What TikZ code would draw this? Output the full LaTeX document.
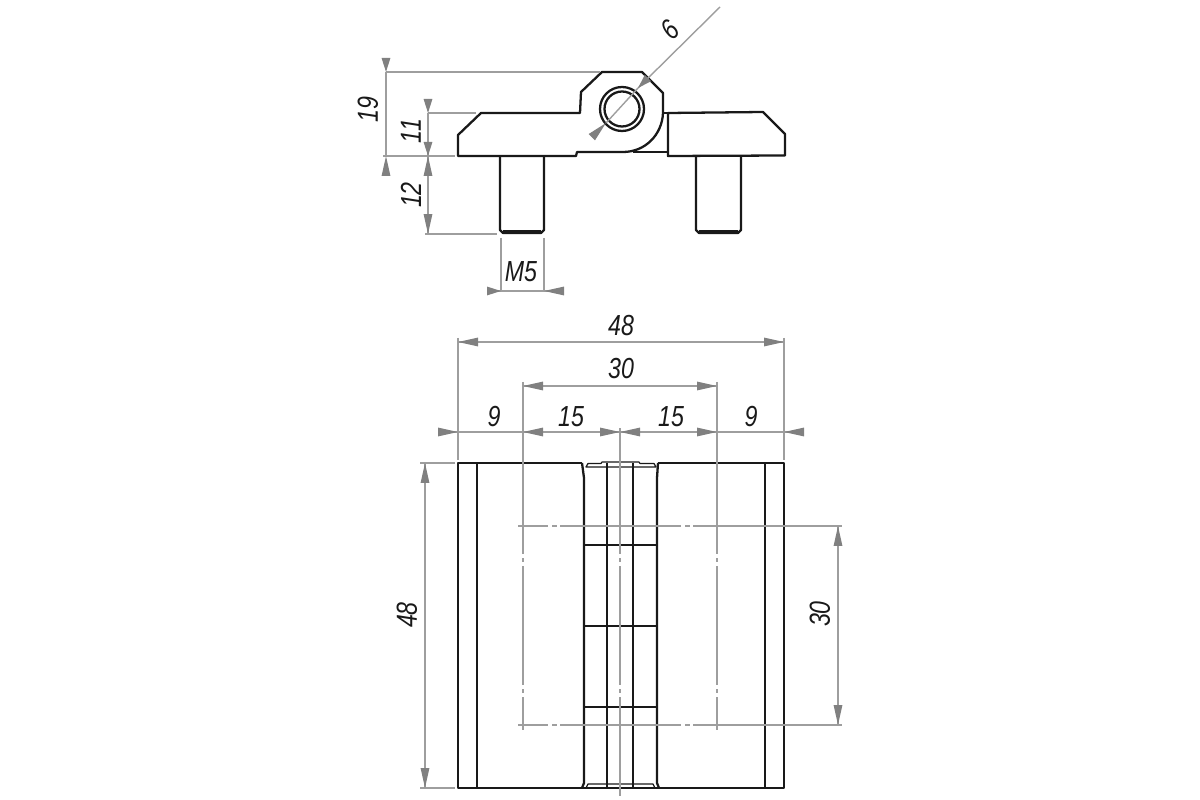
\documentclass[tikz,border=0pt]{standalone}
\usepackage{fontspec}
\setmainfont{Liberation Sans}
\usetikzlibrary{arrows.meta}
\definecolor{dimgray}{gray}{0.62}
\definecolor{tipgray}{gray}{0.5}
\definecolor{partblack}{gray}{0.1}
\tikzset{
  part/.style={draw=partblack, line width=1.3pt, line join=round},
  dimline/.style={draw=dimgray, line width=0.8pt},
  dimtip/.style={draw=dimgray, line width=0.8pt, -{Triangle[length=0.4cm,width=0.17cm,color=tipgray]}},
  dimtipshort/.style={draw=dimgray, line width=0.8pt, -{Triangle[length=0.28cm,width=0.17cm,color=tipgray]}},
  dimtext/.style={font=\itshape\fontsize{16.5}{16.5}\selectfont, xscale=0.8, text=partblack, inner sep=0pt}
}
\begin{document}
\begin{tikzpicture}[x=0.02cm,y=-0.02cm]
\useasboundingbox (0,0) rectangle (1200,800);

% end view
\coordinate (hub) at (622,109);
\draw [part] (458,156) -- (458,135) -- (481,113) -- (580,113) -- (581,92) -- (602,72) -- (642,72) -- (663,93) -- (663,113) .. controls (662,135) and (645,152) .. (623,152) -- (577,152) -- (576,156) -- cycle;
\draw [part] (668,113) -- (763,112) -- (785,134) -- (785,155.5) -- (668,156) -- cycle;
\draw [part] (633,152) -- (668,152);
\draw [part] (663,113) -- (668,113);
\draw [part] (hub) circle [radius=22];
\draw [part] (hub) circle [radius=17.5];

\draw [part] (500,156) -- (500,230) -- (503,233) -- (541,233) -- (544,230) -- (544,156);
\draw [part] (696,156) -- (696,230) -- (699,233) -- (738,233) -- (741,230) -- (741,156);
\draw [part] (503,231.5) -- (541,231.5);
\draw [part] (699,231.5) -- (738,231.5);

% end view dimensions
\coordinate (h19) at (386,72);
\coordinate (b19) at (386,156);
\coordinate (h11) at (428,113);
\coordinate (b11) at (428,156);
\coordinate (e12) at (428,234);
\coordinate (m5a) at (501,291);
\coordinate (m5b) at (544,291);
\coordinate (dia) at (638,88);
\coordinate (dib) at (606,123);

\draw [dimline] (h19) -- (600,72);
\draw [dimline] (h11) -- (476,113);
\draw [dimline] (383,156) -- (455,156);
\draw [dimline] (e12) ++(-3,0) -- (497,234);
\draw [dimline] (501,238) -- (m5a) ++(0,4);
\draw [dimline] (544,238) -- (m5b) ++(0,4);

\draw [dimline] (h19) -- (b19);
\draw [dimtipshort] (386,58) -- (h19);
\draw [dimtip] (386,175) -- (b19);
\draw [dimline] (h11) -- (e12);
\draw [dimtipshort] (428,99) -- (h11);
\draw [dimtipshort] (428,142) -- (b11);
\draw [dimtip] (428,176) -- (b11);
\draw [dimtip] (428,214) -- (e12);
\draw [dimline] (487,291) -- (563,291);
\draw [dimtipshort] (487,291) -- (m5a);
\draw [dimtip] (563,291) -- (m5b);
\draw [dimline] (720,7) -- (dia);
\draw [dimline] (dia) -- (dib);
\draw [dimtipshort] (648,78) -- (dia);
\draw [dimtip] (592,137) -- (dib);

\node [rotate=90, dimtext] (t19) at (368,110) {19};
\node [rotate=90, dimtext] (t11) at (411,131) {11};
\node [rotate=90, dimtext] (t12) at (411,195) {12};
\node [dimtext] (tm5) at (521,272) {M5};
\node [rotate=45, dimtext] (t6) at (670,30) {6};

% front view
\draw [part] (582,463) -- (458,463) -- (458,788) -- (784,788) -- (784,463) -- (658,463);
\draw [part] (477,463) -- (477,788);
\draw [part] (765,463) -- (765,788);
\draw [part] (582,463) -- (584,478) -- (584,783) -- (582,788);
\draw [part] (658,463) -- (657,478) -- (657,783) -- (659,788);
\draw [part, line width=1pt] (607,463) -- (607,788);
\draw [part, line width=1pt] (633,463) -- (633,788);
\draw [part] (584,545) -- (657,545);
\draw [part] (584,626) -- (657,626);
\draw [part] (584,707) -- (657,707);
\draw [part, line width=0.7pt] (586,467) -- (588,463.5) -- (601,463.5) -- (602,462) -- (639,462) -- (640,463.5) -- (654,463.5) -- (656,467) -- cycle;
\draw [part, line width=0.7pt] (586,788) -- (588,784) -- (653,784) -- (655,788);

% centre lines
\draw [dimline] (518,526) -- (548,526);
\draw [dimline] (552,526) -- (557,526);
\draw [dimline] (560,526) -- (681,526);
\draw [dimline] (685,526) -- (690,526);
\draw [dimline] (693,526) -- (842,526);
\draw [dimline] (518,725) -- (548,725);
\draw [dimline] (552,725) -- (557,725);
\draw [dimline] (560,725) -- (681,725);
\draw [dimline] (685,725) -- (690,725);
\draw [dimline] (693,725) -- (842,725);
\draw [dimline] (523,382) -- (523,554);
\draw [dimline] (523,558) -- (523,562);
\draw [dimline] (523,566) -- (523,685);
\draw [dimline] (523,689) -- (523,693);
\draw [dimline] (523,697) -- (523,730);
\draw [dimline] (717,382) -- (717,554);
\draw [dimline] (717,558) -- (717,562);
\draw [dimline] (717,566) -- (717,685);
\draw [dimline] (717,689) -- (717,693);
\draw [dimline] (717,697) -- (717,730);
\draw [dimline] (620,428) -- (620,554);
\draw [dimline] (620,558) -- (620,562);
\draw [dimline] (620,566) -- (620,685);
\draw [dimline] (620,689) -- (620,693);
\draw [dimline] (620,697) -- (620,796);

% front view dimensions
\coordinate (wl) at (458,342);
\coordinate (wr) at (784,342);
\coordinate (ml) at (523,386);
\coordinate (mr) at (717,386);
\coordinate (ca) at (458,432);
\coordinate (cb) at (523,432);
\coordinate (cc) at (620,432);
\coordinate (cd) at (717,432);
\coordinate (ce) at (784,432);
\coordinate (ht) at (425,463);
\coordinate (hb) at (425,788);
\coordinate (st) at (838,526);
\coordinate (sb) at (838,725);

\draw [dimline] (458,338) -- (458,460);
\draw [dimline] (784,338) -- (784,460);
\draw [dimline] (420,463) -- (455,463);
\draw [dimline] (420,788) -- (455,788);

\draw [dimline] (wl) -- (wr);
\draw [dimtip] (478,342) -- (wl);
\draw [dimtip] (764,342) -- (wr);
\draw [dimline] (ml) -- (mr);
\draw [dimtip] (543,386) -- (ml);
\draw [dimtip] (697,386) -- (mr);
\draw [dimline] (438,432) -- (803,432);
\draw [dimtip] (438,432) -- (ca);
\draw [dimtip] (543,432) -- (cb);
\draw [dimtip] (600,432) -- (cc);
\draw [dimtip] (640,432) -- (cc);
\draw [dimtip] (697,432) -- (cd);
\draw [dimtip] (803,432) -- (ce);
\draw [dimline] (ht) -- (hb);
\draw [dimtip] (425,483) -- (ht);
\draw [dimtip] (425,768) -- (hb);
\draw [dimline] (st) -- (sb);
\draw [dimtip] (838,546) -- (st);
\draw [dimtip] (838,705) -- (sb);

\node [dimtext] (w48) at (621,326) {48};
\node [dimtext] (m30) at (621,369) {30};
\node [dimtext] (c9a) at (494,417) {9};
\node [dimtext] (c15a) at (571,417) {15};
\node [dimtext] (c15b) at (671,417) {15};
\node [dimtext] (c9b) at (751,417) {9};
\node [rotate=90, dimtext] (h48) at (407,615) {48};
\node [rotate=90, dimtext] (s30) at (820,614) {30};
\end{tikzpicture}
\end{document}
